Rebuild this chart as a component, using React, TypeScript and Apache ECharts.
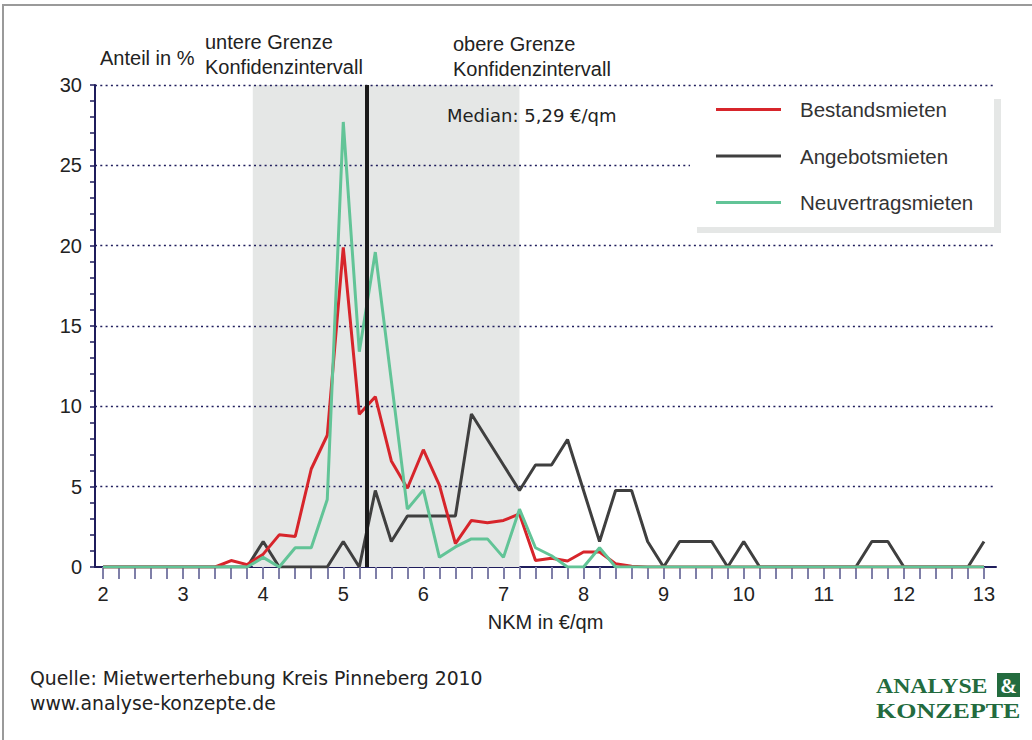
import React, { useEffect, useRef } from "react";
import * as echarts from "echarts";

const xValues = [
  2.0, 2.2, 2.4, 2.6, 2.8, 3.0, 3.2, 3.4, 3.6, 3.8, 4.0, 4.2, 4.4, 4.6, 4.8, 5.0,
  5.2, 5.4, 5.6, 5.8, 6.0, 6.2, 6.4, 6.6, 6.8, 7.0, 7.2, 7.4, 7.6, 7.8, 8.0, 8.2,
  8.4, 8.6, 8.8, 9.0, 9.2, 9.4, 9.6, 9.8, 10.0, 10.2, 10.4, 10.6, 10.8, 11.0, 11.2, 11.4,
  11.6, 11.8, 12.0, 12.2, 12.4, 12.6, 12.8, 13.0,
];

const bestandsmieten = [
  0, 0, 0, 0, 0, 0, 0, 0,
  0.4, 0.15, 0.8, 2.0, 1.9, 6.1, 8.2, 19.9,
  9.5, 10.6, 6.6, 4.9, 7.3, 5.1, 1.45, 2.9,
  2.75, 2.9, 3.3, 0.4, 0.55, 0.37, 0.93, 0.93,
  0.2, 0.05, 0, 0, 0, 0, 0, 0,
  0, 0, 0, 0, 0, 0, 0, 0,
  0, 0, 0, 0, 0, 0, 0, 0,
];

const angebotsmieten = [
  0, 0, 0, 0, 0, 0, 0, 0,
  0, 0, 1.59, 0, 0, 0, 0, 1.59,
  0, 4.76, 1.59, 3.17, 3.17, 3.17, 3.17, 9.52,
  7.94, 6.35, 4.76, 6.35, 6.35, 7.94, 4.76, 1.59,
  4.76, 4.76, 1.59, 0, 1.59, 1.59, 1.59, 0,
  1.59, 0, 0, 0, 0, 0, 0, 0,
  1.59, 1.59, 0, 0, 0, 0, 0, 1.59,
];

const neuvertragsmieten = [
  0, 0, 0, 0, 0, 0, 0, 0,
  0, 0, 0.6, 0, 1.2, 1.2, 4.2, 27.7,
  13.4, 19.6, 11.6, 3.6, 4.8, 0.6, 1.25, 1.75,
  1.75, 0.6, 3.6, 1.2, 0.7, 0, 0, 1.2,
  0, 0, 0, 0, 0, 0, 0, 0,
  0, 0, 0, 0, 0, 0, 0, 0,
  0, 0, 0, 0, 0, 0, 0, 0,
];

const xLabelValues = [2, 3, 4, 5, 6, 7, 8, 9, 10, 11, 12, 13];
const xTickValues = xValues;

const median = 5.29;
const confLower = 3.87;
const confUpper = 7.2;

const seriesNames = ["Bestandsmieten", "Angebotsmieten", "Neuvertragsmieten"];

const RED = "#d7252b";
const DARK = "#3f3f3f";
const GREEN = "#62c497";
const NAVY = "#1f1d5c";
const AXFONT = "'Liberation Sans', Arial, sans-serif";
const TFONT = "'DejaVu Sans', Verdana, sans-serif";

export default function App() {
  const ref = useRef<HTMLDivElement>(null);

  useEffect(() => {
    if (!ref.current) return;
    const chart = echarts.init(ref.current, undefined, { renderer: "svg" });
    const pairs = (vals: number[]) => xValues.map((x, i) => [x, vals[i]]);

    const lineSeries = (name: string, vals: number[], color: string) => ({
      name,
      type: "line",
      data: pairs(vals),
      symbol: "none",
      z: 4,
      lineStyle: { color, width: 3 },
      itemStyle: { color },
    });

    chart.setOption({
      animation: false,
      backgroundColor: "#ffffff",
      grid: { left: 95, right: 36, top: 85, bottom: 173, containLabel: false },
      legend: {
        data: seriesNames,
        orient: "vertical",
        left: 716,
        top: 99,
        padding: 0,
        itemWidth: 65,
        itemHeight: 3,
        itemGap: 25.5,
        icon: "rect",
        z: 200,
        textStyle: {
          fontFamily: AXFONT,
          fontSize: 20.5,
          color: "#333333",
          padding: [0, 0, 0, 14],
        },
      },
      xAxis: {
        type: "value",
        min: 1.9,
        max: 13.15,
        name: "NKM in €/qm",
        nameLocation: "middle",
        nameGap: 45,
        nameTextStyle: { fontFamily: AXFONT, fontSize: 20, color: "#222222" },
        axisLine: { show: true, onZero: false, lineStyle: { color: NAVY, width: 2 } },
        axisTick: {
          show: true,
          length: 12,
          customValues: xTickValues,
          lineStyle: { color: "#7f7fa8", width: 2 },
        },
        axisLabel: {
          customValues: xLabelValues,
          fontFamily: AXFONT,
          fontSize: 20,
          color: "#222222",
          margin: 17,
        },
        splitLine: { show: false },
      },
      yAxis: {
        type: "value",
        min: 0,
        max: 30,
        interval: 5,
        z: 3,
        axisLine: { show: true, lineStyle: { color: NAVY, width: 2 } },
        axisTick: { show: true, length: 5, lineStyle: { color: NAVY, width: 1.5 } },
        minorTick: { show: true, splitNumber: 5, length: 5, lineStyle: { color: NAVY, width: 1.5 } },
        axisLabel: {
          fontFamily: AXFONT,
          fontSize: 20,
          color: "#222222",
          margin: 13,
        },
        splitLine: {
          show: true,
          showMinLine: false,
          lineStyle: { color: NAVY, width: 1.4, type: [2, 3.3] },
        },
      },
      series: [
        {
          type: "line",
          data: [],
          z: 1,
          silent: true,
          markArea: {
            silent: true,
            z: 1,
            itemStyle: { color: "#e5e7e6" },
            label: { show: false },
            data: [[{ xAxis: confLower }, { xAxis: confUpper }]],
          },
          markLine: {
            silent: true,
            z: 5,
            symbol: "none",
            label: { show: false },
            lineStyle: { color: "#1a1a1a", width: 4, type: "solid" },
            data: [{ xAxis: median }],
          },
        },
        lineSeries(seriesNames[1], angebotsmieten, DARK),
        lineSeries(seriesNames[0], bestandsmieten, RED),
        lineSeries(seriesNames[2], neuvertragsmieten, GREEN),
      ],
      graphic: [
        {
          type: "rect",
          z: 100,
          silent: true,
          shape: { x: 0, y: 0, width: 1040, height: 750 },
          x: 3,
          y: 5,
          style: { fill: "none", stroke: "#9a9a9a", lineWidth: 2 },
        },
        {
          type: "rect",
          z: 100,
          silent: true,
          shape: { x: 697, y: 99, width: 304, height: 134 },
          style: { fill: "#e5e7e6" },
        },
        {
          type: "rect",
          z: 101,
          silent: true,
          shape: { x: 690, y: 93, width: 304, height: 134 },
          style: { fill: "#ffffff" },
        },
        {
          type: "text",
          z: 100,
          x: 100,
          y: 58,
          style: { text: "Anteil in %", font: `20px ${AXFONT}`, fill: "#222222", verticalAlign: "middle" },
        },
        {
          type: "text",
          z: 100,
          x: 205,
          y: 42,
          style: { text: "untere Grenze", font: `20px ${AXFONT}`, fill: "#222222", verticalAlign: "middle" },
        },
        {
          type: "text",
          z: 100,
          x: 205,
          y: 67,
          style: { text: "Konfidenzintervall", font: `20px ${AXFONT}`, fill: "#222222", verticalAlign: "middle" },
        },
        {
          type: "text",
          z: 100,
          x: 453,
          y: 44,
          style: { text: "obere Grenze", font: `20px ${AXFONT}`, fill: "#222222", verticalAlign: "middle" },
        },
        {
          type: "text",
          z: 100,
          x: 453,
          y: 69,
          style: { text: "Konfidenzintervall", font: `20px ${AXFONT}`, fill: "#222222", verticalAlign: "middle" },
        },
        {
          type: "text",
          z: 100,
          x: 447,
          y: 115,
          style: { text: "Median: 5,29 €/qm", font: `18px ${TFONT}`, fill: "#222222", verticalAlign: "middle" },
        },
        {
          type: "text",
          z: 100,
          x: 30,
          y: 678,
          style: {
            text: "Quelle: Mietwerterhebung Kreis Pinneberg 2010",
            font: `18.85px ${TFONT}`,
            fill: "#222222",
            verticalAlign: "middle",
          },
        },
        {
          type: "text",
          z: 100,
          x: 30,
          y: 703,
          style: { text: "www.analyse-konzepte.de", font: `18.85px ${TFONT}`, fill: "#222222", verticalAlign: "middle" },
        },
        {
          type: "text",
          z: 100,
          x: 876,
          y: 686,
          scaleX: 1.19,
          style: {
            text: "ANALYSE",
            font: `bold 20px 'Liberation Serif', 'Times New Roman', serif`,
            fill: "#236b3e",
            verticalAlign: "middle",
          },
        },
        {
          type: "rect",
          z: 100,
          shape: { x: 997, y: 673, width: 23, height: 24 },
          style: { fill: "#236b3e" },
        },
        {
          type: "text",
          z: 101,
          x: 1008.5,
          y: 686,
          style: {
            text: "&",
            font: `bold 20px 'Liberation Serif', 'Times New Roman', serif`,
            fill: "#ffffff",
            align: "center",
            verticalAlign: "middle",
          },
        },
        {
          type: "text",
          z: 100,
          x: 876,
          y: 711,
          scaleX: 1.3,
          style: {
            text: "KONZEPTE",
            font: `bold 20px 'Liberation Serif', 'Times New Roman', serif`,
            fill: "#236b3e",
            verticalAlign: "middle",
          },
        },
      ],
    });

    return () => chart.dispose();
  }, []);

  return (
    <div
      ref={ref}
      style={{ position: "fixed", left: 0, top: 0, width: 1032, height: 740, background: "#ffffff" }}
    />
  );
}
